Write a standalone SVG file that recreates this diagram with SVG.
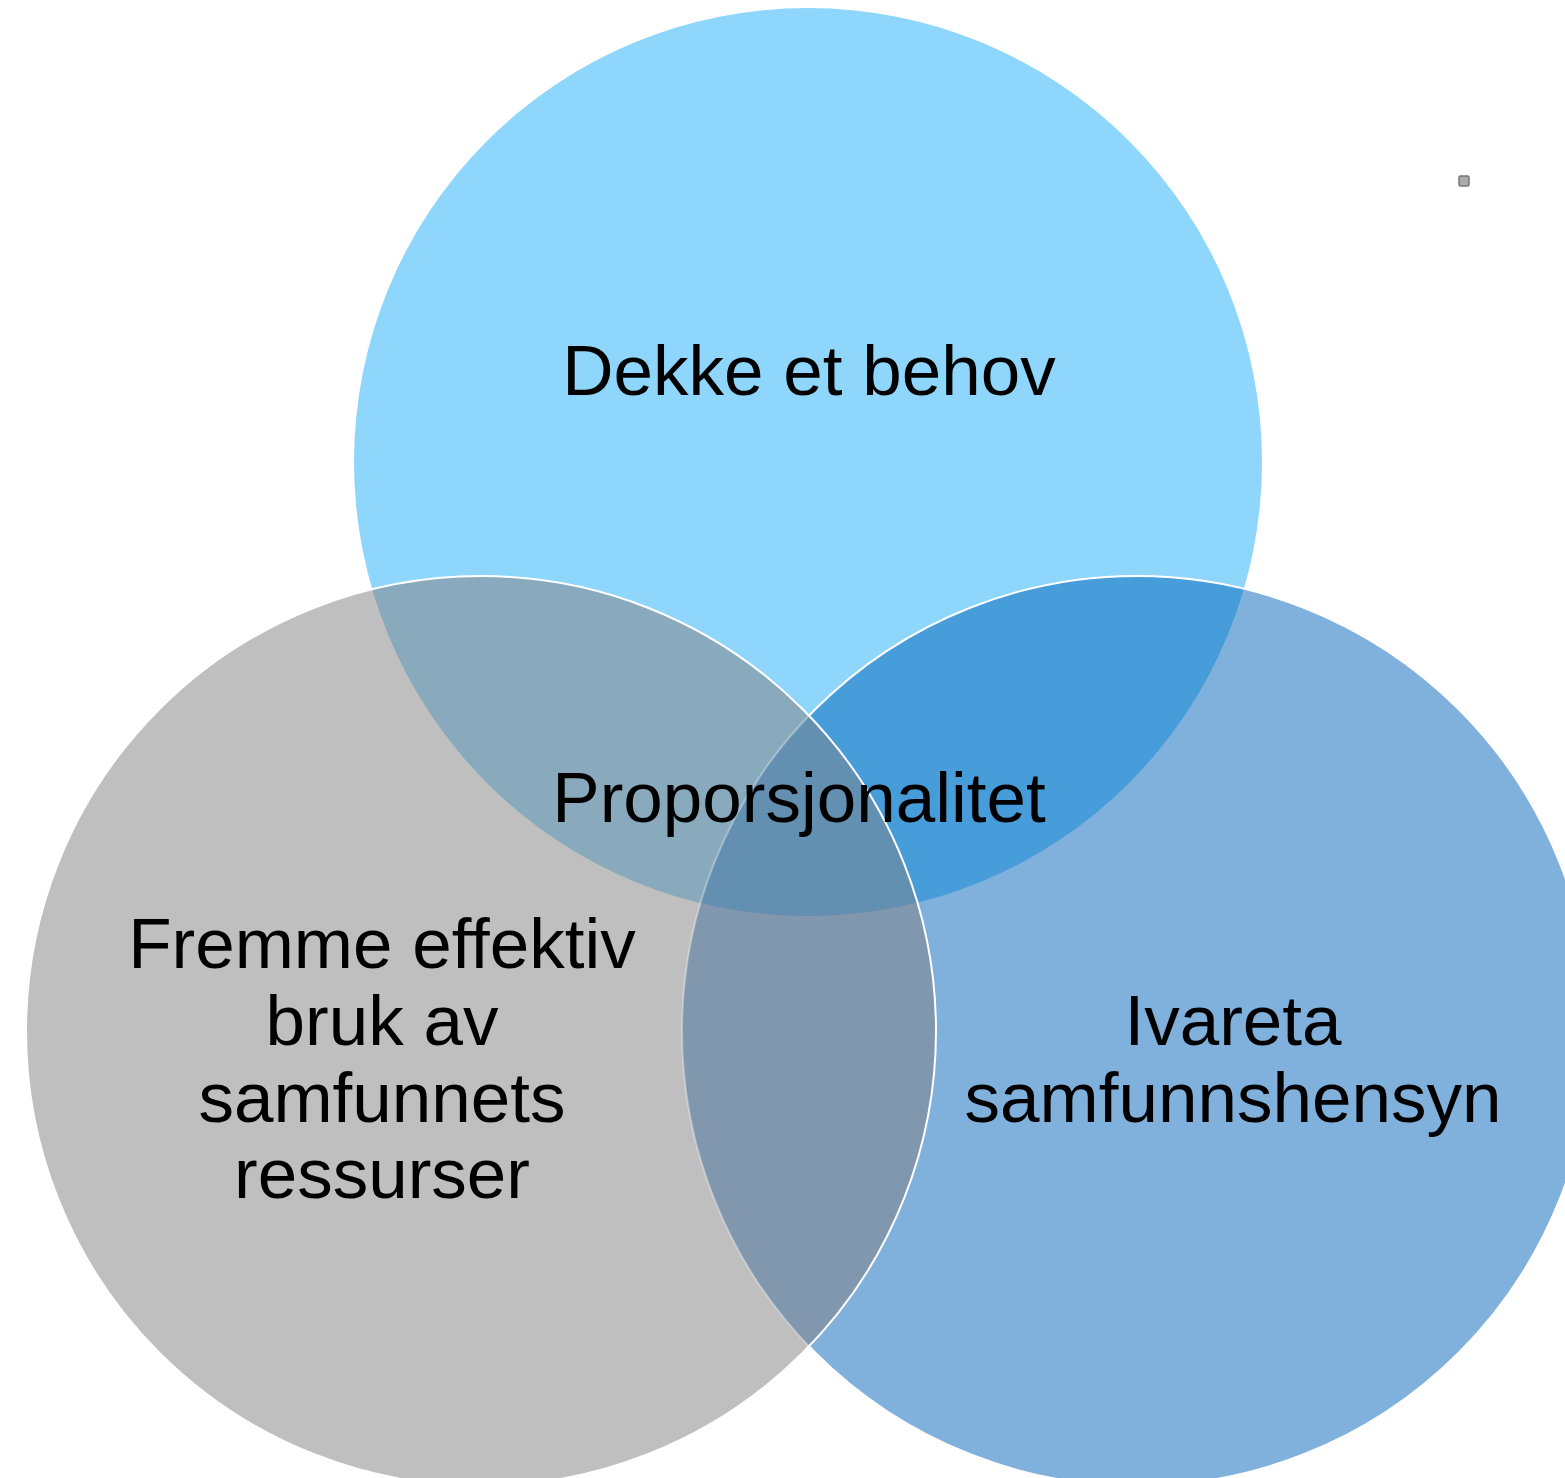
<svg xmlns="http://www.w3.org/2000/svg" width="1565" height="1478" viewBox="0 0 1565 1478">
<style>
.lbl{font-family:"Liberation Sans",Arial,sans-serif;font-size:71px;fill:#000;text-anchor:middle}
.edge{fill:none;stroke:#fff;stroke-width:2}
</style>
<defs>
<clipPath id="cT"><circle cx="808" cy="462" r="454"/></clipPath>
<clipPath id="cL"><circle cx="481" cy="1031" r="455"/></clipPath>
<mask id="outL"><rect width="1565" height="1478" fill="#fff"/><circle cx="481" cy="1031" r="455" fill="#000"/></mask>
</defs>
<rect width="1565" height="1478" fill="#fff"/>
<g id="node-top">
<circle cx="808" cy="462" r="454" fill="#8FD6FC"/>
</g>
<g id="node-right">
<circle cx="1137" cy="1031" r="455" fill="#80B0DC"/>
</g>
<g id="node-left">
<circle cx="481" cy="1031" r="455" fill="#BFBFBF"/>
</g>
<g id="overlaps">
<circle cx="481" cy="1031" r="455" fill="#88AABC" clip-path="url(#cT)"/>
<circle cx="1137" cy="1031" r="455" fill="#469DDA" clip-path="url(#cT)"/>
<circle cx="1137" cy="1031" r="455" fill="#8197AE" clip-path="url(#cL)"/>
<g clip-path="url(#cT)"><circle cx="1137" cy="1031" r="455" fill="#638FB0" clip-path="url(#cL)"/></g>
</g>
<g id="outlines">
<circle class="edge" cx="1137" cy="1031" r="455" mask="url(#outL)"/>
<circle class="edge" cx="1137" cy="1031" r="455" clip-path="url(#cL)" stroke-opacity="0.35"/>
<circle class="edge" cx="481" cy="1031" r="455"/>
</g>
<g id="labels">
<text class="lbl" x="809" y="395">Dekke et behov</text>
<text class="lbl" x="799" y="822">Proporsjonalitet</text>
<text class="lbl" x="382" y="968">Fremme effektiv</text>
<text class="lbl" x="382" y="1045">bruk av</text>
<text class="lbl" x="382" y="1122">samfunnets</text>
<text class="lbl" x="382" y="1198">ressurser</text>
<text class="lbl" x="1233" y="1045">Ivareta</text>
<text class="lbl" x="1233" y="1122">samfunnshensyn</text>
</g>
<g id="handle">
<rect x="1459" y="176" width="10" height="10" rx="1.5" fill="#AAAAAA" stroke="#777777" stroke-width="1.5"/>
</g>
</svg>
